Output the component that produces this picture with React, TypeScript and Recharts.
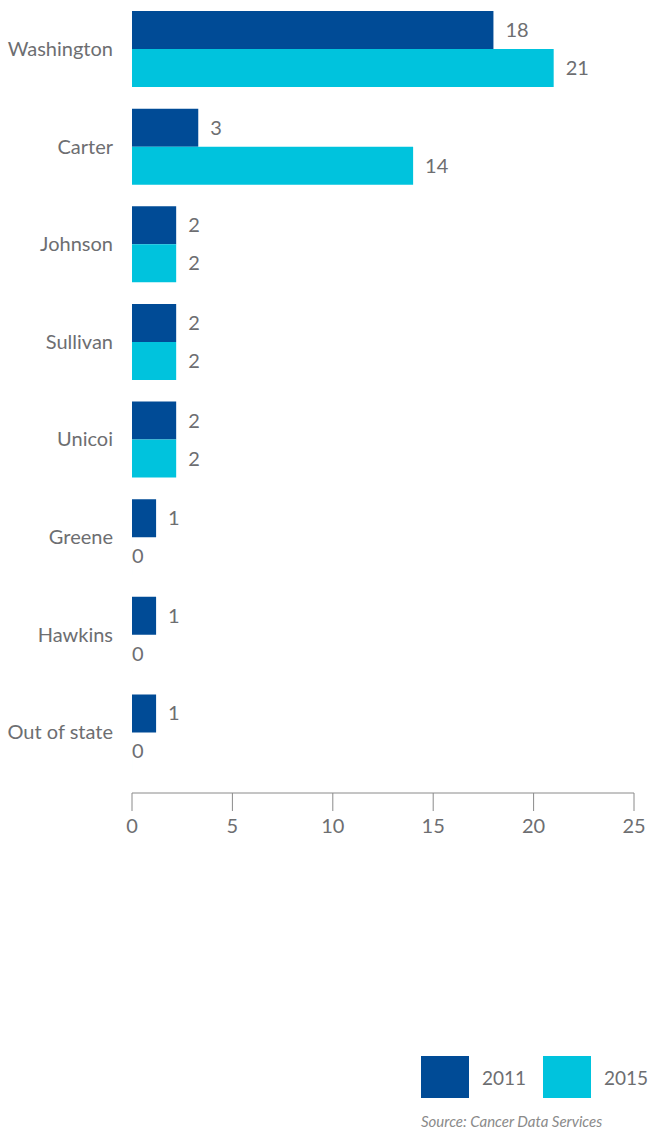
import { BarChart, Bar, XAxis, YAxis, LabelList } from "recharts";

const counties = [
  "Washington",
  "Carter",
  "Johnson",
  "Sullivan",
  "Unicoi",
  "Greene",
  "Hawkins",
  "Out of state",
];
// bar lengths; labels show them rounded
const values2011 = [18, 3.3, 2.2, 2.2, 2.2, 1.2, 1.2, 1.2];
const values2015 = [21, 14, 2.2, 2.2, 2.2, 0, 0, 0];
const xTicks = [0, 5, 10, 15, 20, 25];

const DARK = "#004b96";
const CYAN = "#00c3dd";
const TEXT = "#6d6e71";
const FONT = "Lato, sans-serif";

const data = counties.map((name, i) => ({
  name,
  y2011: values2011[i],
  y2015: values2015[i],
}));

// value label to the right of the bar; zero sits right on the axis
const renderValue = (props: any) => {
  const { x, y, width, height, value } = props;
  const v = Number(value);
  const gap = v === 0 ? 0 : 12;
  return (
    <text
      x={Number(x) + (v === 0 ? 0 : Number(width)) + gap}
      y={Number(y) + Number(height) / 2}
      dy="0.35em"
      fill={TEXT}
      fontSize={20}
      fontFamily={FONT}
      textAnchor="start"
    >
      {Math.round(v)}
    </text>
  );
};

export default function App() {
  return (
    <div
      style={{
        position: "absolute",
        left: 0,
        top: 0,
        width: 655,
        height: 1129,
        fontFamily: FONT,
        background: "#fff",
      }}
    >
      <BarChart
        width={655}
        height={1129}
        data={data}
        layout="vertical"
        margin={{ top: 0, right: 21, bottom: 286, left: 0 }}
        barCategoryGap={11}
        barGap={0}
      >
        <XAxis
          type="number"
          domain={[0, 25]}
          ticks={xTicks}
          height={50}
          axisLine={{ stroke: "#8a8a8a" }}
          tickLine={{ stroke: "#8a8a8a" }}
          tickSize={18}
          tickMargin={8}
          tick={{ fontSize: 20, fill: TEXT, fontFamily: FONT }}
        />
        <YAxis
          type="category"
          dataKey="name"
          width={132}
          axisLine={false}
          tickLine={false}
          tickSize={0}
          tickMargin={19}
          padding={{ top: 0, bottom: 12 }}
          tick={{ fontSize: 20, fill: TEXT, fontFamily: FONT }}
        />
        <Bar dataKey="y2011" fill={DARK} isAnimationActive={false}>
          <LabelList dataKey="y2011" content={renderValue} />
        </Bar>
        <Bar
          dataKey="y2015"
          fill={CYAN}
          minPointSize={0.01}
          isAnimationActive={false}
        >
          <LabelList dataKey="y2015" content={renderValue} />
        </Bar>
      </BarChart>

      {/* legend */}
      <div
        style={{
          position: "absolute",
          left: 421,
          top: 1056,
          display: "flex",
          alignItems: "center",
          fontSize: 19,
          color: TEXT,
        }}
      >
        <div style={{ width: 48, height: 42, background: DARK }} />
        <span style={{ marginLeft: 13, width: 61 }}>2011</span>
        <div style={{ width: 48, height: 42, background: CYAN }} />
        <span style={{ marginLeft: 13 }}>2015</span>
      </div>
      <div
        style={{
          position: "absolute",
          left: 421,
          top: 1112,
          fontSize: 15,
          fontStyle: "italic",
          color: "#8a8a8a",
        }}
      >
        Source: Cancer Data Services
      </div>
    </div>
  );
}
